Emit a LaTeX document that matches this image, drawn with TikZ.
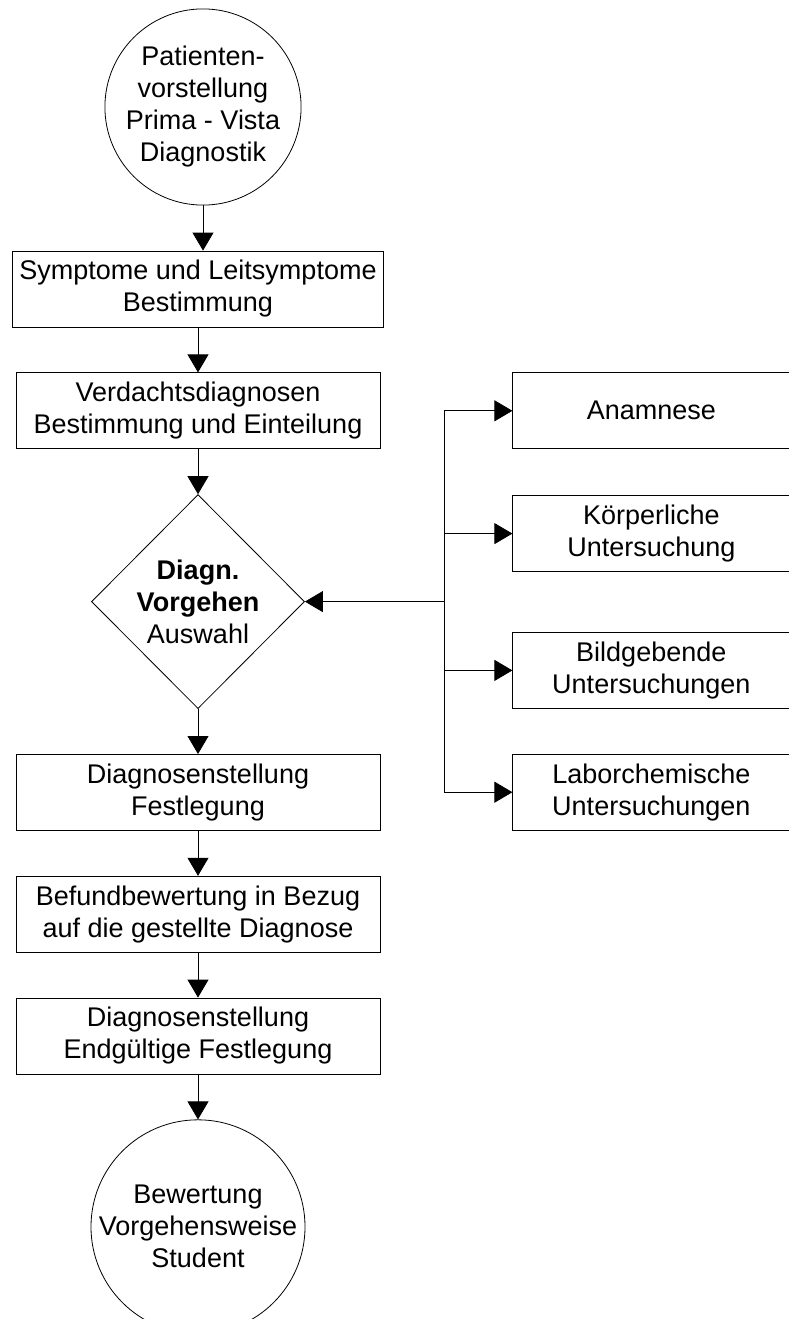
\documentclass[tikz,border=0pt]{standalone}
\usepackage{fontspec}
\setmainfont{Liberation Sans}
\usepackage{tikz}
\usetikzlibrary{arrows.meta,positioning,shapes.geometric,calc}

\begin{document}
\begin{tikzpicture}[
    x=1pt, y=-1pt,
    node distance=45pt,
    every node/.style={draw, align=center, inner sep=0pt, line width=0.8pt, font=\fontsize{27}{32}\selectfont},
    kasten/.style={rectangle, minimum width=364pt, minimum height=76pt},
    seitenkasten/.style={rectangle, minimum width=277pt, minimum height=76pt},
    kreis/.style={circle, minimum size=196pt},
    raute/.style={diamond, minimum width=213pt, minimum height=214pt},
    pfeil/.style={draw, line width=0.8pt, -{Triangle[length=18pt, width=21pt]}},
]
\path[use as bounding box, fill=white] (0,0) rectangle (788,1319);

\node[kreis] (patient) at (203,107) {Patienten-\\vorstellung\\Prima - Vista\\Diagnostik};
\node[kasten, minimum width=371pt] (symptome) at (198,289) {Symptome und Leitsymptome\\Bestimmung};
\node[kasten, below=of symptome] (verdacht) {Verdachtsdiagnosen\\Bestimmung und Einteilung};
\node[raute, below=of verdacht] (auswahl) {\textbf{Diagn.}\\\textbf{Vorgehen}\\Auswahl};
\node[kasten, below=of auswahl] (festlegung) {Diagnosenstellung\\Festlegung};
\node[kasten, below=of festlegung] (befund) {Befundbewertung in Bezug\\auf die gestellte Diagnose};
\node[kasten, below=of befund] (endgueltig) {Diagnosenstellung\\Endgültige Festlegung};
\node[kreis, minimum size=206pt, below=of endgueltig] (bewertung) {Bewertung\\Vorgehensweise\\Student};

\node[seitenkasten, right=132pt of verdacht] (anamnese) {Anamnese};
\node[seitenkasten, below=46pt of anamnese] (koerper) {Körperliche\\Untersuchung};
\node[seitenkasten, below=60pt of koerper] (bild) {Bildgebende\\Untersuchungen};
\node[seitenkasten, below=45pt of bild] (labor) {Laborchemische\\Untersuchungen};

\draw[pfeil] (patient) -- (patient |- symptome.north);
\draw[pfeil] (symptome) -- (symptome |- verdacht.north);
\draw[pfeil] (verdacht) -- (verdacht |- auswahl.north);
\draw[pfeil] (auswahl) -- (auswahl |- festlegung.north);
\draw[pfeil] (festlegung) -- (festlegung |- befund.north);
\draw[pfeil] (befund) -- (befund |- endgueltig.north);
\draw[pfeil] (endgueltig) -- (endgueltig |- bewertung.north);

\coordinate (bus) at ([xshift=139pt]auswahl.east);
\draw[line width=0.8pt] (bus |- anamnese) -- (bus |- labor);
\foreach \ziel in {anamnese,koerper,bild,labor}
    \draw[pfeil] (bus |- \ziel) -- (\ziel.west);
\draw[pfeil] (bus) -- (auswahl.east);
\end{tikzpicture}
\end{document}
